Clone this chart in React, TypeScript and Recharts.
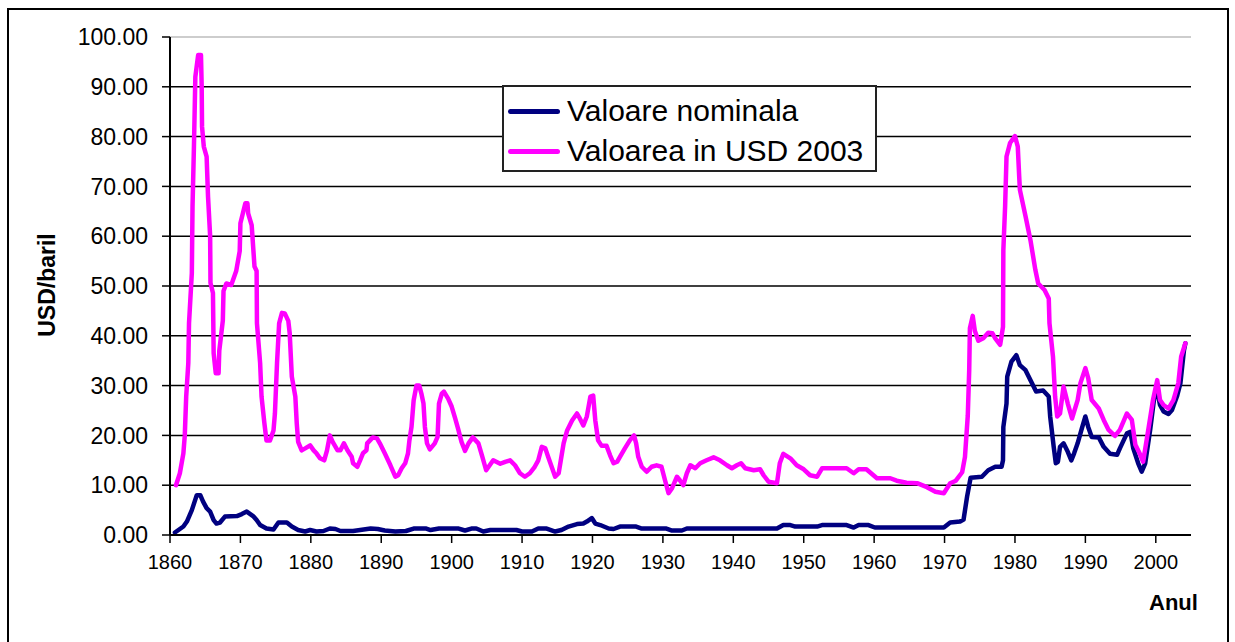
import {
  CartesianGrid,
  Line,
  LineChart,
  ReferenceLine,
  XAxis,
  YAxis,
} from "recharts";

// Valoare nominala (USD/baril)
const nominalYears = [
  1860.7, 1861.9, 1862.4, 1863.1, 1863.8, 1864.3, 1864.7, 1865.2, 1865.7, 1866.2,
  1866.6, 1867.1, 1867.8, 1869.5, 1870.2, 1870.9, 1871.8, 1872.3, 1872.8, 1873.7,
  1874.7, 1875.4, 1876.6, 1877.3, 1878.2, 1879.2, 1879.9, 1880.8, 1881.8, 1882.7,
  1883.5, 1884.2, 1886, 1888.5, 1889.5, 1890.5, 1892, 1893.5, 1894.6, 1896.4,
  1897, 1898.2, 1901, 1901.9, 1902.8, 1903.5, 1904.5, 1905.5, 1909.2, 1910,
  1911.4, 1912.3, 1913.5, 1914.7, 1915.6, 1916.6, 1917.8, 1918.7, 1919.2, 1919.9,
  1920.4, 1921.1, 1922.3, 1923, 1923.9, 1926.2, 1927, 1930.5, 1931.3, 1932.7,
  1933.4, 1946.2, 1947.1, 1948.1, 1948.8, 1951.9, 1952.6, 1956.1, 1957.1, 1957.8,
  1959.2, 1960.1, 1969.9, 1970.8, 1972.2, 1972.7, 1973.2, 1973.7, 1975.3, 1976.2,
  1977.2, 1978.1, 1978.3, 1978.35, 1978.8, 1978.9, 1979.5, 1980.2, 1980.7, 1981.5,
  1982.4, 1983.0, 1984.0, 1984.8, 1985.0, 1985.5, 1985.8, 1986.1, 1986.4, 1986.9,
  1987.5, 1988.0, 1988.4, 1988.9, 1989.5, 1990.0, 1990.4, 1990.9, 1991.9, 1992.6,
  1993.5, 1994.5, 1994.9, 1995.9, 1996.4, 1996.8, 1997.5, 1998.0, 1998.5, 1999.2,
  1999.8, 2000.2, 2000.6, 2001.1, 2001.8, 2002.3, 2003.0, 2003.5, 2004.0, 2004.2,
];
const nominalValues = [
  0.5, 1.7, 2.7, 5, 8, 8, 6.7, 5.4, 4.7, 3,
  2.3, 2.5, 3.7, 3.8, 4.2, 4.7, 3.8, 3, 2, 1.3,
  1.1, 2.5, 2.5, 1.7, 1.0, 0.7, 1.0, 0.7, 0.8, 1.3,
  1.2, 0.8, 0.8, 1.3, 1.2, 0.9, 0.7, 0.8, 1.3, 1.3,
  1.0, 1.3, 1.3, 0.9, 1.3, 1.3, 0.7, 1.0, 1.0, 0.7,
  0.7, 1.3, 1.3, 0.7, 1.0, 1.7, 2.2, 2.3, 2.7, 3.4,
  2.3, 2.0, 1.3, 1.2, 1.7, 1.7, 1.3, 1.3, 0.9, 0.9,
  1.3, 1.3, 2.0, 2.0, 1.7, 1.7, 2.0, 2.0, 1.5, 2.0,
  2.0, 1.5, 1.5, 2.5, 2.7, 3.1, 7.7, 11.5, 11.7, 13,
  13.7, 13.7, 15, 21.7, 26.4, 31.8, 34.8, 36.1, 34.1, 33.1,
  30.5, 28.8, 29, 27.8, 23.8, 17.7, 14.4, 14.7, 17.7, 18.4,
  16.7, 15, 16.4, 18.4, 21.4, 23.8, 21.7, 19.7, 19.6, 17.7,
  16.3, 16.1, 17.4, 20.4, 20.7, 17.4, 14.4, 12.7, 14.4, 21.1,
  27.8, 29, 26.1, 24.8, 24.3, 25.1, 27.8, 30.5, 37.1, 38.5,
];

// Valoarea in USD 2003
const realYears = [
  1860.85, 1861.4, 1861.9, 1862.1, 1862.3, 1862.6, 1862.7, 1863.1, 1863.2, 1863.4,
  1863.6, 1864.0, 1864.4, 1864.5, 1864.55, 1864.8, 1865.2, 1865.4, 1865.7, 1865.75,
  1866.1, 1866.2, 1866.5, 1866.9, 1867.0, 1867.5, 1867.6, 1868.0, 1868.7, 1869.4,
  1869.9, 1870.0, 1870.7, 1871.0, 1871.1, 1871.6, 1872.0, 1872.3, 1872.35, 1872.8,
  1873.0, 1873.4, 1873.7, 1874.2, 1874.7, 1874.9, 1875.2, 1875.5, 1875.9, 1876.3,
  1876.8, 1877.0, 1877.3, 1877.8, 1878.0, 1878.2, 1878.7, 1879.2, 1879.9, 1880.4,
  1880.8, 1881.3, 1881.9, 1882.3, 1882.7, 1883.1, 1883.8, 1884.2, 1884.7, 1885.2,
  1885.8, 1886.0, 1886.6, 1887.0, 1887.4, 1887.9, 1888.0, 1888.8, 1889.4, 1889.8,
  1890.5, 1891.3, 1892.0, 1892.4, 1892.9, 1893.4, 1893.8, 1894.0, 1894.3, 1894.6,
  1895.0, 1895.4, 1895.7, 1896.0, 1896.2, 1896.5, 1896.9, 1897.6, 1898.0, 1898.2,
  1898.6, 1898.9, 1899.5, 1900.0, 1900.5, 1900.9, 1901.4, 1901.9, 1902.4, 1903.0,
  1903.8, 1904.3, 1904.9, 1905.5, 1905.9, 1906.9, 1907.6, 1908.3, 1909.0, 1909.7,
  1910.4, 1911.1, 1911.8, 1912.3, 1912.8, 1913.3, 1913.7, 1914.2, 1914.7, 1915.2,
  1915.5, 1915.9, 1916.4, 1917.1, 1917.8, 1918.2, 1918.7, 1919.2, 1919.7, 1920.1,
  1920.4, 1920.8, 1921.3, 1922.0, 1922.5, 1923.0, 1923.5, 1923.9, 1924.6, 1925.3,
  1925.9, 1926.2, 1926.5, 1927.0, 1927.7, 1928.4, 1929.1, 1929.8, 1930.3, 1930.8,
  1931.3, 1932.0, 1932.4, 1932.9, 1933.4, 1933.9, 1934.6, 1935.3, 1936.2, 1937.2,
  1938.1, 1939.1, 1939.8, 1940.5, 1941.1, 1941.7, 1942.9, 1943.8, 1944.3, 1945.0,
  1946.2, 1946.6, 1947.1, 1948.1, 1949.0, 1950.0, 1950.9, 1951.9, 1952.6, 1954.2,
  1956.1, 1957.1, 1957.8, 1958.9, 1960.4, 1962.3, 1963.2, 1964.6, 1966.1, 1967.5,
  1968.7, 1969.9, 1970.8, 1971.6, 1972.5, 1972.9, 1973.3, 1973.5, 1973.6, 1974.0,
  1974.3, 1974.8, 1975.5, 1976.2, 1976.8, 1977.2, 1977.9, 1978.3, 1978.35, 1978.6,
  1978.8, 1979.3, 1980.0, 1980.4, 1980.6, 1980.7, 1981.5, 1982.2, 1982.9, 1983.3,
  1984.2, 1984.8, 1984.9, 1985.4, 1985.7, 1986.0, 1986.4, 1986.9, 1987.5, 1988.1,
  1988.9, 1989.3, 1990.0, 1990.4, 1990.9, 1991.9, 1992.6, 1993.3, 1994.2, 1994.9,
  1995.9, 1996.6, 1997.1, 1997.7, 1998.2, 1999.0, 1999.6, 2000.2, 2000.6, 2001.1,
  2001.8, 2002.5, 2003.2, 2003.6, 2004.2,
];
const realValues = [
  10.0, 12.4, 16.4, 20, 27.8, 34.5, 42.5, 52.6, 66, 78,
  92, 96.4, 96.4, 90, 82, 78, 76, 68, 60, 50.6,
  48.6, 36.5, 32.5, 32.5, 37, 43, 49, 50.5, 50.2, 53,
  57, 62.6, 66.6, 66.6, 64.6, 62.2, 53.9, 53, 42.5, 34.5,
  27.8, 22.5, 19, 19, 21, 24.4, 34.5, 42.5, 44.6, 44.5,
  43, 40.5, 31.8, 27.8, 22.4, 18.7, 17, 17.4, 18, 17,
  16.4, 15.4, 15, 17, 20, 18.7, 17, 17, 18.4, 17,
  15.7, 14.4, 13.7, 15, 16.4, 17, 18.4, 19.6, 19.4, 18.4,
  16.4, 14, 11.7, 12, 13.4, 14.4, 16.4, 19, 21.7, 27,
  30, 30, 28.4, 26.4, 21.7, 18.4, 17.2, 18.4, 19.7, 26.4,
  28.4, 28.8, 27.4, 25.8, 23.4, 21.4, 18.7, 16.9, 18.4, 19.6,
  18.4, 16, 13, 14.2, 15, 14.3, 14.7, 15, 14, 12.4,
  11.7, 12.4, 13.7, 15, 17.7, 17.4, 15.7, 13.7, 11.7, 12.4,
  15, 18.4, 21, 23, 24.4, 23.4, 22, 23.8, 27.8, 28,
  23, 19, 17.9, 17.9, 16, 14.4, 14.7, 15.7, 17.4, 19,
  20, 18.4, 15.7, 13.7, 12.7, 13.7, 14, 13.7, 11, 8.4,
  9.4, 11.7, 11, 10, 12.4, 14, 13.4, 14.4, 15, 15.6,
  15, 14, 13.4, 14, 14.4, 13.4, 13, 13.2, 12, 10.7,
  10.4, 14.4, 16.3, 15.4, 14, 13.2, 12, 11.7, 13.4, 13.4,
  13.4, 12.4, 13.2, 13.2, 11.4, 11.4, 10.9, 10.5, 10.4, 9.6,
  8.7, 8.4, 10.4, 10.9, 12.6, 15.7, 24, 33, 41.5, 44,
  41, 39, 39.5, 40.6, 40.5, 39.5, 38.2, 41.8, 57.2, 66,
  76, 78.7, 80.1, 78, 72, 69.3, 64, 59.2, 53.2, 50.5,
  49.2, 47.5, 42.5, 35.8, 27.8, 23.8, 24.4, 29.8, 26.4, 23.4,
  27.1, 30.5, 33.5, 31.5, 27.1, 25.4, 23.1, 21.1, 19.9, 21.1,
  24.4, 23.1, 18.1, 16.4, 14.7, 21.7, 27.1, 31.1, 27.1, 26.1,
  25.4, 27.1, 30.5, 35.8, 38.5,
];

const yearTicks = [
  1860, 1870, 1880, 1890, 1900, 1910, 1920, 1930, 1940, 1950, 1960, 1970, 1980, 1990, 2000,
];
const valueTicks = [0, 10, 20, 30, 40, 50, 60, 70, 80, 90, 100];
const gridValues = [10, 20, 30, 40, 50, 60, 70, 80, 90];

const NOMINAL_COLOR = "#000080";
const REAL_COLOR = "#ff00ff";
const FONT = "'Liberation Sans', Arial, sans-serif";

const nominalData = nominalYears.map((year, i) => ({
  year,
  value: nominalValues[i],
}));

const realData = realYears.map((year, i) => ({
  year,
  value: realValues[i],
}));

const legendItems = [
  { label: "Valoare nominala", color: NOMINAL_COLOR },
  { label: "Valoarea in USD 2003", color: REAL_COLOR },
];

function ChartLegend() {
  return (
    <div
      style={{
        position: "absolute",
        left: 502,
        top: 85,
        width: 375,
        height: 87,
        boxSizing: "border-box",
        border: "2px solid #222",
        background: "#fff",
        fontSize: 30,
        color: "#000",
        paddingTop: 4,
      }}
    >
      {legendItems.map((item) => (
        <div
          key={item.label}
          style={{
            display: "flex",
            alignItems: "center",
            height: 40,
            whiteSpace: "nowrap",
          }}
        >
          <span
            style={{
              display: "inline-block",
              width: 52,
              height: 5,
              borderRadius: 3,
              background: item.color,
              marginLeft: 4,
              marginRight: 7,
            }}
          />
          <span>{item.label}</span>
        </div>
      ))}
    </div>
  );
}

export default function App() {
  return (
    <div
      style={{
        position: "absolute",
        left: 0,
        top: 0,
        width: 1235,
        height: 642,
        background: "#fff",
        overflow: "hidden",
        fontFamily: FONT,
      }}
    >
      <div
        style={{
          position: "absolute",
          left: 7,
          top: 8,
          width: 1222,
          height: 700,
          border: "2px solid #000",
          boxSizing: "border-box",
        }}
      />

      <div style={{ position: "absolute", left: 0, top: 0 }}>
        <LineChart
          width={1235}
          height={642}
          margin={{
            top: 37,
            right: 44,
            bottom: 67,
            left: 80,
          }}
        >
          <CartesianGrid
            vertical={false}
            horizontalValues={gridValues}
            stroke="#000"
            strokeWidth={1.5}
          />

          <ReferenceLine
            y={100}
            stroke="#bdbdbd"
            strokeWidth={1.5}
          />

          <XAxis
            dataKey="year"
            type="number"
            domain={[1860, 2005]}
            ticks={yearTicks}
            allowDataOverflow
            height={40}
            tickSize={8}
            tickMargin={12}
            tick={{
              fill: "#000",
              fontSize: 20,
              fontFamily: FONT,
            }}
            tickLine={{
              stroke: "#000",
              strokeWidth: 1.5,
            }}
            axisLine={{
              stroke: "#000",
              strokeWidth: 2,
            }}
          />

          <YAxis
            type="number"
            domain={[0, 100]}
            ticks={valueTicks}
            width={90}
            tickSize={8}
            tickMargin={14}
            tick={{
              fill: "#000",
              fontSize: 23,
              fontFamily: FONT,
            }}
            tickLine={{
              stroke: "#000",
              strokeWidth: 1.5,
            }}
            axisLine={{
              stroke: "#000",
              strokeWidth: 2,
            }}
            tickFormatter={(value) =>
              Number(value).toFixed(2)
            }
          />

          <Line
            data={nominalData}
            dataKey="value"
            name="Valoare nominala"
            type="linear"
            stroke={NOMINAL_COLOR}
            strokeWidth={4.5}
            strokeLinejoin="round"
            strokeLinecap="round"
            dot={false}
            isAnimationActive={false}
          />

          <Line
            data={realData}
            dataKey="value"
            name="Valoarea in USD 2003"
            type="linear"
            stroke={REAL_COLOR}
            strokeWidth={4.5}
            strokeLinejoin="round"
            strokeLinecap="round"
            dot={false}
            isAnimationActive={false}
          />
        </LineChart>
      </div>

      <ChartLegend />

      <div
        style={{
          position: "absolute",
          left: 47,
          top: 285,
          transform: "translate(-50%, -50%) rotate(-90deg)",
          fontSize: 23,
          fontWeight: "bold",
          whiteSpace: "nowrap",
          color: "#000",
        }}
      >
        USD/baril
      </div>

      <div
        style={{
          position: "absolute",
          left: 1149,
          top: 590,
          fontSize: 22,
          fontWeight: "bold",
          color: "#000",
        }}
      >
        Anul
      </div>
    </div>
  );
}
